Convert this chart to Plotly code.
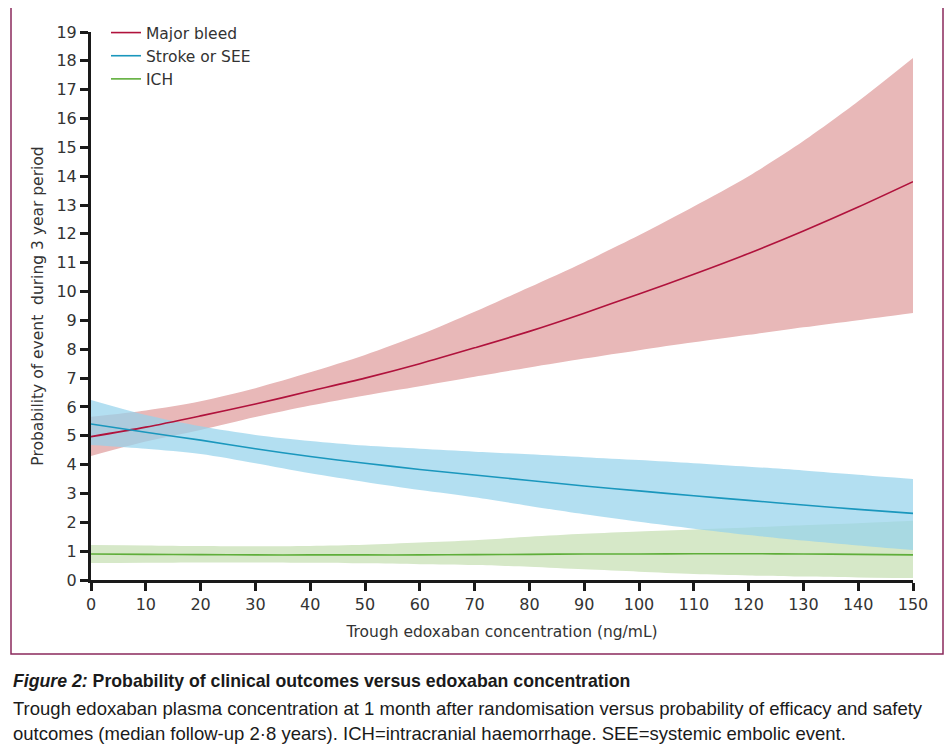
import plotly.graph_objects as go

# ---------------- data ----------------
conc = [0, 10, 20, 30, 40, 50, 60, 70, 80, 90, 100, 110, 120, 130, 140, 150]

bleed_mid = [4.97, 5.30, 5.69, 6.10, 6.55, 7.00, 7.50, 8.05, 8.62, 9.25, 9.92, 10.60, 11.32, 12.10, 12.93, 13.81]
bleed_lo  = [4.30, 4.80, 5.20, 5.65, 6.05, 6.40, 6.72, 7.05, 7.37, 7.68, 7.97, 8.24, 8.50, 8.76, 9.01, 9.26]
bleed_hi  = [5.66, 5.88, 6.20, 6.65, 7.20, 7.80, 8.50, 9.30, 10.15, 11.02, 11.95, 12.95, 14.00, 15.22, 16.60, 18.10]

stroke_mid = [5.41, 5.12, 4.85, 4.55, 4.28, 4.05, 3.83, 3.64, 3.45, 3.26, 3.09, 2.92, 2.76, 2.60, 2.45, 2.31]
stroke_lo  = [4.68, 4.55, 4.37, 4.05, 3.70, 3.40, 3.12, 2.87, 2.57, 2.28, 2.02, 1.78, 1.56, 1.37, 1.20, 1.04]
stroke_hi  = [6.24, 5.72, 5.33, 5.03, 4.82, 4.66, 4.55, 4.45, 4.36, 4.26, 4.16, 4.05, 3.93, 3.80, 3.65, 3.50]

ich_mid = [0.90, 0.89, 0.88, 0.87, 0.87, 0.87, 0.87, 0.88, 0.89, 0.90, 0.90, 0.91, 0.91, 0.90, 0.89, 0.87]
ich_lo  = [0.59, 0.60, 0.61, 0.61, 0.60, 0.58, 0.55, 0.52, 0.46, 0.37, 0.29, 0.21, 0.16, 0.12, 0.09, 0.07]
ich_hi  = [1.21, 1.20, 1.18, 1.17, 1.18, 1.22, 1.30, 1.38, 1.50, 1.60, 1.68, 1.75, 1.82, 1.90, 1.97, 2.05]

x_ticks = list(range(0, 151, 10))
y_ticks = list(range(0, 20))

series_names = ["Major bleed", "Stroke or SEE", "ICH"]

x_title = "Trough edoxaban concentration (ng/mL)"
y_title = "Probability of event  during 3 year period"

caption_title = "<i>Figure 2:</i> Probability of clinical outcomes versus edoxaban concentration"
caption_l1 = "Trough edoxaban plasma concentration at 1 month after randomisation versus probability of efficacy and safety"
caption_l2 = "outcomes (median follow-up 2·8 years). ICH=intracranial haemorrhage. SEE=systemic embolic event."

# ---------------- styling ----------------
RED_LINE, RED_BAND = "#b0123c", "rgb(232,184,184)"
BLUE_LINE, BLUE_BAND = "#1a97bd", "rgba(150,210,235,0.72)"
GREEN_LINE, GREEN_BAND = "#5fae3a", "rgb(214,232,200)"
FONT = "DejaVu Sans"

fig = go.Figure()


def band(lo, hi, color):
    fig.add_trace(go.Scatter(
        x=conc, y=lo, mode="lines", line=dict(width=0, shape="spline", smoothing=0.8),
        hoverinfo="skip", showlegend=False))
    fig.add_trace(go.Scatter(
        x=conc, y=hi, mode="lines", fill="tonexty", fillcolor=color,
        line=dict(width=0, shape="spline", smoothing=0.8),
        hoverinfo="skip", showlegend=False))


band(ich_lo, ich_hi, GREEN_BAND)
band(bleed_lo, bleed_hi, RED_BAND)
band(stroke_lo, stroke_hi, BLUE_BAND)

for name, ys, col in [(series_names[0], bleed_mid, RED_LINE),
                      (series_names[1], stroke_mid, BLUE_LINE),
                      (series_names[2], ich_mid, GREEN_LINE)]:
    fig.add_trace(go.Scatter(x=conc, y=ys, mode="lines", name=name,
                             line=dict(color=col, width=1.6, shape="spline", smoothing=0.8)))

# page has an 8px body margin, so the figure is 8px smaller and shifted
OFF = 8
W, H = 952 - OFF, 754 - OFF
L, T = 91 - OFF, 32 - OFF
R = W - (913 - OFF)
B = H - (580 - OFF)
pw, ph = W - L - R, H - T - B


def px_x(p):  # p: page pixel
    return (p - OFF - L) / pw


def px_y(p):
    return (H - B - (p - OFF)) / ph


fig.update_layout(
    width=W, height=H,
    margin=dict(l=L, r=R, t=T, b=B, pad=0, autoexpand=False),
    paper_bgcolor="white", plot_bgcolor="white",
    font=dict(family=FONT, size=15, color="#333333"),
    showlegend=True,
    legend=dict(x=px_x(106), y=px_y(16), xanchor="left", yanchor="top",
                traceorder="normal",
                bgcolor="rgba(0,0,0,0)", font=dict(size=15.5, color="#333333"),
                itemwidth=30, tracegroupgap=0),
    xaxis=dict(range=[0, 150], tickvals=x_ticks, showgrid=False, zeroline=False,
               automargin=False,
               showline=True, linecolor="#1a1a1a", linewidth=3,
               ticks="outside", ticklen=8, tickwidth=3, tickcolor="#1a1a1a",
               tickfont=dict(size=16, color="#333333"),
               title=dict(text=x_title, font=dict(size=15.5, color="#333333"), standoff=13)),
    yaxis=dict(range=[0, 19], tickvals=y_ticks, showgrid=False, zeroline=False,
               automargin=False,
               showline=True, linecolor="#1a1a1a", linewidth=3,
               ticks="outside", ticklen=8, tickwidth=3, tickcolor="#1a1a1a",
               tickfont=dict(size=16, color="#333333"),
               title=dict(text=y_title, font=dict(size=15.5, color="#333333"), standoff=10)),
)

# frame around the figure panel
fig.add_shape(type="rect", xref="paper", yref="paper",
              x0=px_x(11), x1=px_x(943), y0=px_y(654), y1=px_y(5),
              line=dict(color="#8a2a5c", width=1.5), fillcolor="rgba(0,0,0,0)", layer="below")

cap_font = "Liberation Sans Narrow, Liberation Sans, sans-serif"
fig.add_annotation(text="<b>" + caption_title + "</b>", xref="paper", yref="paper",
                   x=px_x(11), y=px_y(681), xanchor="left", yanchor="middle",
                   showarrow=False, font=dict(family=cap_font, size=17.7, color="#1a1a1a"))
fig.add_annotation(text=caption_l1, xref="paper", yref="paper",
                   x=px_x(11), y=px_y(708), xanchor="left", yanchor="middle",
                   showarrow=False, font=dict(family=cap_font, size=18.5, color="#1a1a1a"))
fig.add_annotation(text=caption_l2, xref="paper", yref="paper",
                   x=px_x(11), y=px_y(733), xanchor="left", yanchor="middle",
                   showarrow=False, font=dict(family=cap_font, size=18.5, color="#1a1a1a"))

fig.write_html("out.html")
